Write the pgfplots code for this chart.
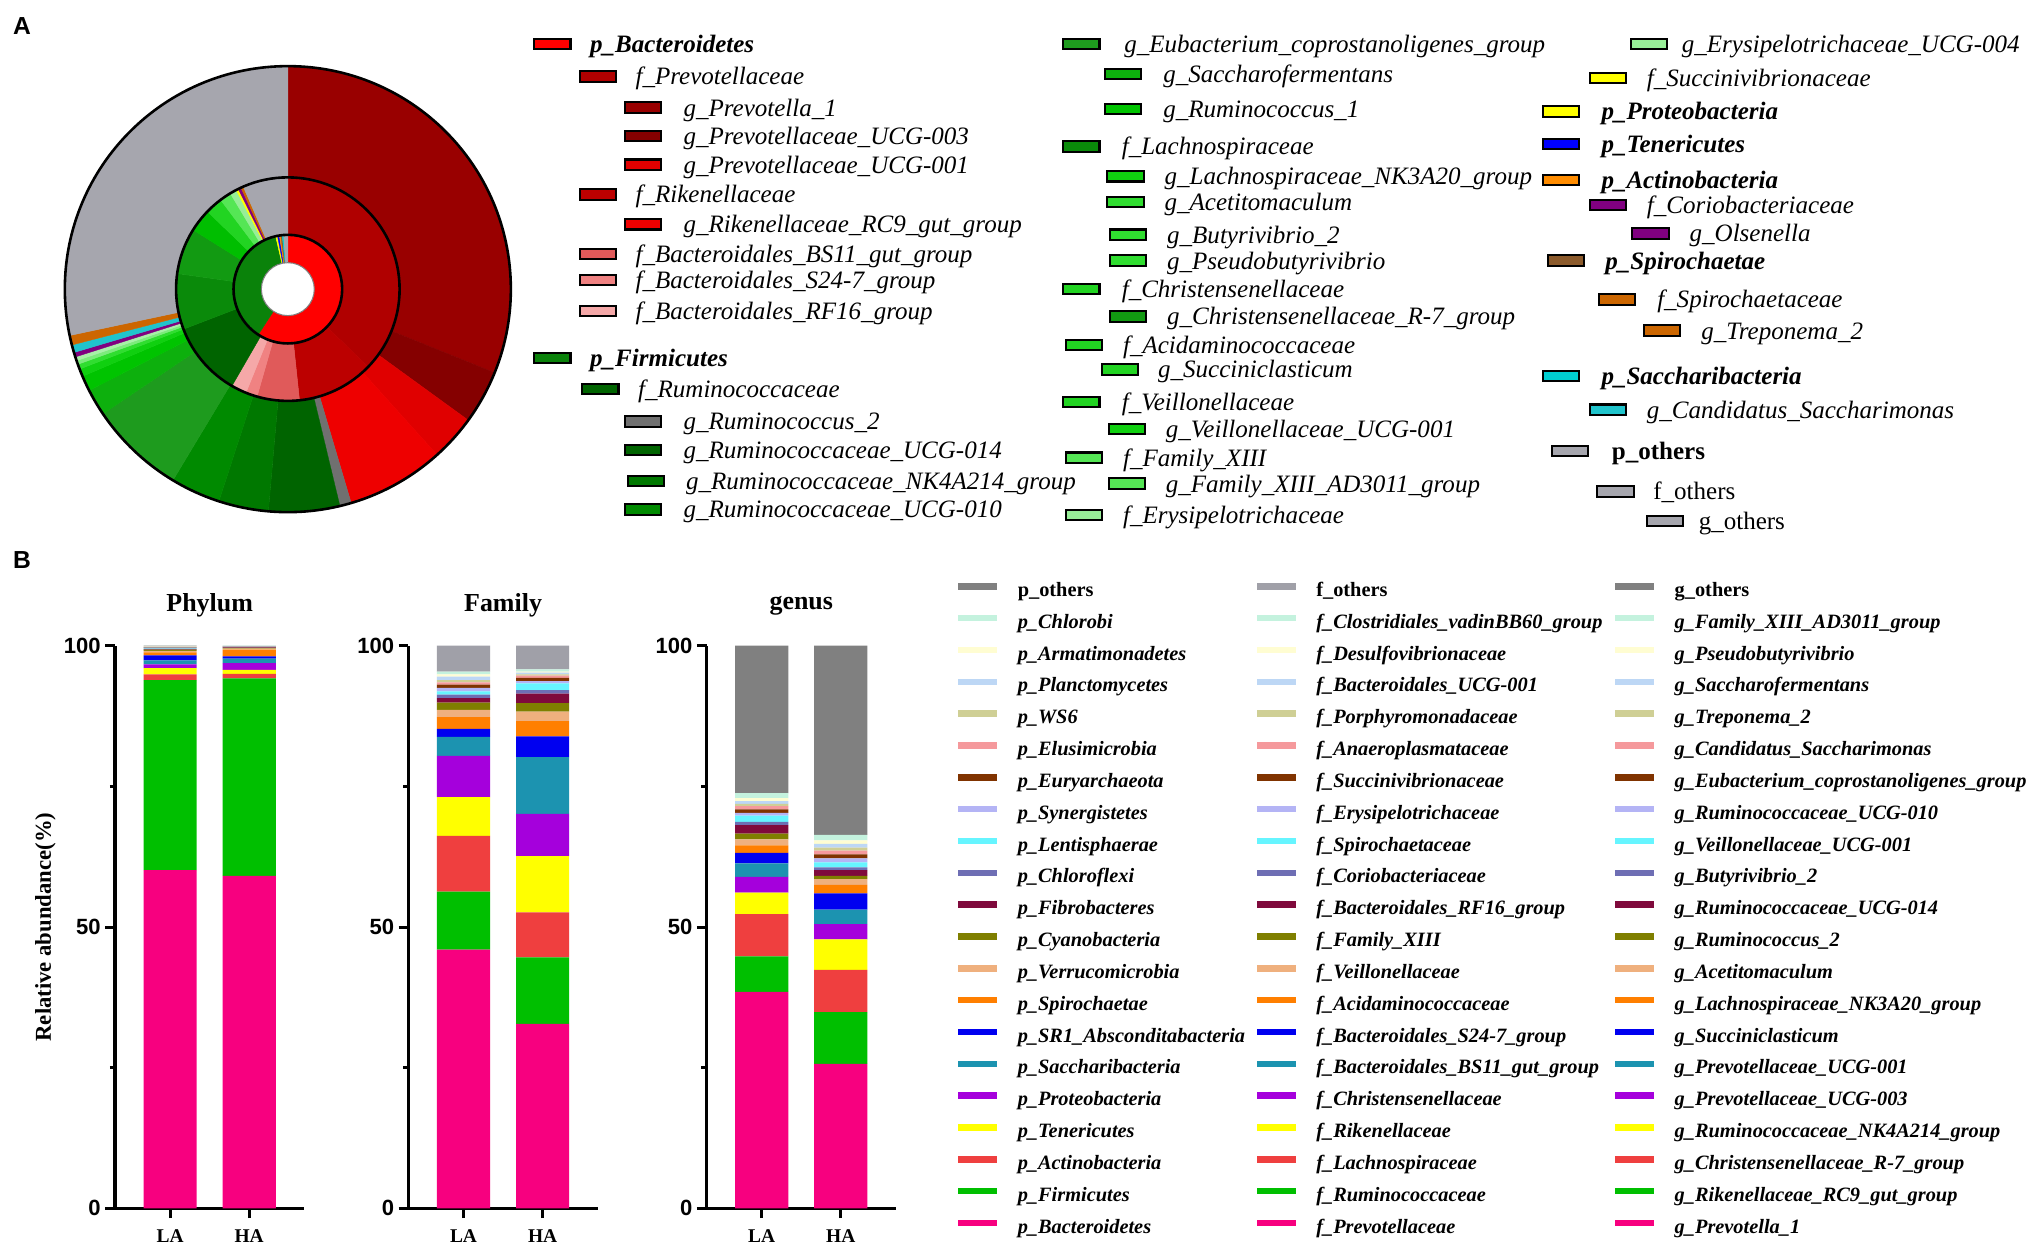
\documentclass[border=0pt]{standalone}
\usepackage{pgfplots}
\pgfplotsset{compat=1.18}
\usepackage{pgfplotstable}
\usepackage{fontspec}
\setmainfont{Liberation Serif}
\newfontfamily\sansf{Liberation Sans}
% sunburst colours
\definecolor{sRed}{HTML}{FF0000}
\definecolor{sGreen}{HTML}{0A820A}
\definecolor{sYellow}{HTML}{FFFF00}
\definecolor{sBlue}{HTML}{0000FF}
\definecolor{sOrange}{HTML}{FF8C00}
\definecolor{sBrown}{HTML}{8B5A2B}
\definecolor{sCyan}{HTML}{00CED1}
\definecolor{sGray}{HTML}{A6A6AE}
\definecolor{sPurple}{HTML}{800080}
\definecolor{mPrev}{HTML}{B00000}
\definecolor{mRik}{HTML}{BC0000}
\definecolor{mBS}{HTML}{E05A5A}
\definecolor{mSf}{HTML}{F08282}
\definecolor{mRF}{HTML}{F5A8A8}
\definecolor{mRum}{HTML}{006400}
\definecolor{mLach}{HTML}{0A8A0A}
\definecolor{mChr}{HTML}{129A12}
\definecolor{mAcid}{HTML}{00BE00}
\definecolor{mVeil}{HTML}{22D422}
\definecolor{mFam}{HTML}{55E655}
\definecolor{mEry}{HTML}{98EE98}
\definecolor{mSpi}{HTML}{CC6600}
\definecolor{oPrev}{HTML}{990000}
\definecolor{oUa}{HTML}{850000}
\definecolor{oUb}{HTML}{E00000}
\definecolor{oRC}{HTML}{EE0000}
\definecolor{oRum}{HTML}{707070}
\definecolor{oU14}{HTML}{006400}
\definecolor{oNK}{HTML}{007800}
\definecolor{oU10}{HTML}{008A00}
\definecolor{oEub}{HTML}{1E9B1E}
\definecolor{oSac}{HTML}{0DB00D}
\definecolor{oRa}{HTML}{00C400}
\definecolor{oNKt}{HTML}{10D010}
\definecolor{oAce}{HTML}{30DD30}
\definecolor{oLa}{HTML}{7CEB7C}
\definecolor{oLb}{HTML}{A8F0A8}
\definecolor{oCy}{HTML}{20C4CC}
% bar colours
\definecolor{cB1}{HTML}{F7007F}
\definecolor{cB2}{HTML}{00BF00}
\definecolor{cB3}{HTML}{EF3F3F}
\definecolor{cB4}{HTML}{FFFF00}
\definecolor{cB5}{HTML}{A500DC}
\definecolor{cB6}{HTML}{1C93B0}
\definecolor{cB7}{HTML}{0000F0}
\definecolor{cB8}{HTML}{FF7F00}
\definecolor{cB9}{HTML}{EFB07E}
\definecolor{cB10}{HTML}{7F7F00}
\definecolor{cB11}{HTML}{7F0A3C}
\definecolor{cB12}{HTML}{6E6EB4}
\definecolor{cB13}{HTML}{66F5FF}
\definecolor{cB14}{HTML}{B4B4F5}
\definecolor{cB15}{HTML}{803300}
\definecolor{cB16}{HTML}{F5999C}
\definecolor{cB17}{HTML}{CFCF95}
\definecolor{cB18}{HTML}{BDD7F5}
\definecolor{cB19}{HTML}{FFFDD2}
\definecolor{cB20}{HTML}{C4F2DE}
\definecolor{othP}{HTML}{808080}
\definecolor{othF}{HTML}{A0A0A8}
\definecolor{othG}{HTML}{808080}

\pgfplotstableread{
r1 r2 a1 a2 c
20.4 41.9 90 -123 sRed
20.4 41.9 -123 -257 sGreen
20.4 41.9 103 101 sYellow
20.4 41.9 101 99 sBlue
20.4 41.9 99 97.5 sOrange
20.4 41.9 97.5 96 sBrown
20.4 41.9 96 94.5 sCyan
20.4 41.9 94.5 90 sGray
41.9 86.2 90 -44 mPrev
41.9 86.2 -44 -84 mRik
41.9 86.2 -84 -106 mBS
41.9 86.2 -106 -112 mSf
41.9 86.2 -112 -120 mRF
41.9 86.2 -120 -159 mRum
41.9 86.2 -159 -188 mLach
41.9 86.2 -188 -212 mChr
41.9 86.2 -212 -224 mAcid
41.9 86.2 -224 -233 mVeil
41.9 86.2 -233 -239 mFam
41.9 86.2 -239 -242.5 mEry
41.9 86.2 -242.5 -243.7 sYellow
41.9 86.2 -243.7 -245.2 sPurple
41.9 86.2 -245.2 -246.5 mSpi
41.9 86.2 113.5 90 sGray
86.2 172 90 -22 oPrev
86.2 172 -22 -36 oUa
86.2 172 -36 -48 oUb
86.2 172 -48 -73.5 oRC
86.2 172 -73.5 -76.5 oRum
86.2 172 -76.5 -95 oU14
86.2 172 -95 -108 oNK
86.2 172 -108 -121 oU10
86.2 172 -121 -146 oEub
86.2 172 -146 -153 oSac
86.2 172 -153 -157 oRa
86.2 172 -157 -159 oNKt
86.2 172 -159 -160.3 oAce
86.2 172 -160.3 -161.3 oLa
86.2 172 -161.3 -162.3 oLb
86.2 172 -162.3 -163.5 sPurple
86.2 172 -163.5 -165.5 oCy
86.2 172 -165.5 -168 mSpi
86.2 172 -168 -270 sGray
}\sunb

\pgfplotstableread{
x Bac Fir Act Ten Pro Sac SR1 Spi Ver Cya Fib Chl Len Syn Eur Elu WS6 Pla Arm Chb Oth
0 60.1 33.8 1.0 1.1 0.7 0.7 0.9 0.5 0.3 0.2 0.1 0.1 0.1 0.05 0.1 0.05 0.05 0.05 0.03 0.02 0.05
1 59.1 35.1 0.8 0.7 1.2 0.8 0.4 1.2 0.2 0.1 0.1 0.05 0.05 0.05 0.05 0.02 0.02 0.02 0.02 0.02 0.02
}\tabP

\pgfplotstableread{
x Prev Rum Lach Rik Chr BS11 S247 Acid Veil Fam RF16 Cor Spi Ery Suc Ana Por BUCG Des Clo Oth
0 46.0 10.3 9.9 6.9 7.3 3.4 1.4 2.1 1.3 1.3 0.8 0.6 0.6 0.6 0.6 0.4 0.4 0.6 0.4 0.5 4.6
1 32.8 11.8 8.0 10.0 7.5 10.1 3.7 2.7 1.7 1.5 1.7 0.6 1.2 0.4 0.6 0.4 0.2 0.3 0.2 0.4 4.2
}\tabF

\pgfplotstableread{
x Prev1 RC9 R7 NK4 U003 U001 Succ NK3 Acet Rum2 U014 But VeilU U010 Eub Cand Trep Sacf Pseu AD30 Oth
0 38.5 6.3 7.5 3.8 2.8 2.4 1.9 1.3 1.1 1.0 1.5 0.6 1.1 0.5 0.6 0.6 0.4 0.5 0.5 0.9 26.2
1 25.7 9.2 7.5 5.4 2.7 2.6 2.9 1.5 1.0 0.6 1.0 0.5 0.9 0.7 0.7 0.7 0.5 0.7 0.6 1.0 33.6
}\tabG

\pgfplotsset{
  mylegimg/.style={legend image code/.code={\fill[##1] (0pt,1.5pt) rectangle (30pt,6.5pt);}},
  barax/.style={
    scale only axis, width=146pt, height=434pt,
    xmin=-0.697, xmax=1.697, ymin=0, ymax=100,
    axis lines=left, axis line style={-, line width=2.4pt},
    ybar stacked, bar width=41pt,
    xtick={0,1}, xticklabels={LA,HA},
    ytick={0,50,100}, minor ytick={25,75},
    tick align=outside, major tick length=7.5pt, minor tick length=4pt,
    every tick/.style={black, line width=2.4pt},
    yticklabel style={font=\sansf\bfseries\fontsize{17}{17}\selectfont},
    xticklabel style={font=\bfseries\fontsize{15}{15}\selectfont, yshift=-5pt},
    /pgf/number format/assume math mode=true,
    title style={at={(0.5,1)}, anchor=center, yshift=25pt, font=\bfseries\fontsize{20}{20}\selectfont},
    clip=false,
    legend cell align=left,
    reverse legend,
    legend style={anchor=north west, draw=none, fill=none, inner sep=0pt, outer sep=0pt,
      row sep=10.05pt, column sep=16pt,
      font=\bfseries\itshape\fontsize{15.7}{15.7}\selectfont,
      nodes={inner sep=0pt, text height=11pt, text depth=3.5pt}},
    every axis plot post/.append style={draw=none, mylegimg},
  }
}

\newcommand{\fP}{\fontsize{19.3}{19.3}\selectfont\bfseries\itshape}
\newcommand{\fI}{\fontsize{19.3}{19.3}\selectfont\itshape}
\newcommand{\fO}{\fontsize{19.3}{19.3}\selectfont\bfseries}
\newcommand{\fR}{\fontsize{19.3}{19.3}\selectfont}
\newcommand{\lgA}[6]{%
  \draw[line width=1.6pt, fill=#4] ({#1},{4-#2}) rectangle ({#1+28},{-4-#2});
  \node[anchor=base west, inner sep=0pt, font=#5] at ({#3},{-#2-6.5}) {#6};
}

\begin{document}
\begin{tikzpicture}[x=1pt,y=1pt]
\useasboundingbox (0,0) rectangle (1568,-967);
\fill[white] (0,0) rectangle (1568,-967);

\node[font=\sansf\bfseries\fontsize{19}{19}\selectfont] at (17,-20) {A};
\node[font=\sansf\bfseries\fontsize{19}{19}\selectfont] at (17,-432) {B};

% ---------------- sunburst ----------------
\begin{axis}[at={(222pt,-223pt)}, anchor=center, hide axis, scale only axis,
  width=360pt, height=360pt, xmin=-180, xmax=180, ymin=-180, ymax=180, clip=false]
\addplot[draw=none, forget plot] coordinates {(0,0)};
\pgfplotstablegetrowsof{\sunb}
\pgfmathtruncatemacro{\nsec}{\pgfplotsretval-1}
\pgfplotsinvokeforeach{0,...,\nsec}{%
  \pgfplotstablegetelem{#1}{r1}\of\sunb\let\rI\pgfplotsretval
  \pgfplotstablegetelem{#1}{r2}\of\sunb\let\rO\pgfplotsretval
  \pgfplotstablegetelem{#1}{a1}\of\sunb\let\sA\pgfplotsretval
  \pgfplotstablegetelem{#1}{a2}\of\sunb\let\sB\pgfplotsretval
  \pgfplotstablegetelem{#1}{c}\of\sunb\let\sC\pgfplotsretval
  \edef\sector{\noexpand\fill[fill=\sC, draw=\sC, line width=0.3pt, shift={(axis cs:0,0)}] (\sA:\rO pt) arc[start angle=\sA, end angle=\sB, radius=\rO pt] -- (\sB:\rI pt) arc[start angle=\sB, end angle=\sA, radius=\rI pt] -- cycle;}%
  \sector
}
\fill[white] (axis cs:0,0) circle[radius=20.4pt];
\draw[line width=0.8pt, gray] (axis cs:0,0) circle[radius=20.4pt];
\draw[line width=2pt] (axis cs:0,0) circle[radius=41.9pt];
\draw[line width=2pt] (axis cs:0,0) circle[radius=86.2pt];
\draw[line width=2pt] (axis cs:0,0) circle[radius=172pt];
\end{axis}

% ---------------- legend A ----------------
\lgA{412}{34}{455}{sRed}{\fP}{p\_Bacteroidetes}
\lgA{447}{59}{490}{mPrev}{\fI}{f\_Prevotellaceae}
\lgA{482}{83}{527}{oPrev}{\fI}{g\_Prevotella\_1}
\lgA{482}{105}{527}{oUa}{\fI}{g\_Prevotellaceae\_UCG-003}
\lgA{482}{127}{527}{oUb}{\fI}{g\_Prevotellaceae\_UCG-001}
\lgA{447}{150}{490}{mRik}{\fI}{f\_Rikenellaceae}
\lgA{482}{173}{527}{oRC}{\fI}{g\_Rikenellaceae\_RC9\_gut\_group}
\lgA{447}{196}{490}{mBS}{\fI}{f\_Bacteroidales\_BS11\_gut\_group}
\lgA{447}{216}{490}{mSf}{\fI}{f\_Bacteroidales\_S24-7\_group}
\lgA{447}{240}{490}{mRF}{\fI}{f\_Bacteroidales\_RF16\_group}
\lgA{412}{276}{455}{sGreen}{\fP}{p\_Firmicutes}
\lgA{449}{300}{492}{mRum}{\fI}{f\_Ruminococcaceae}
\lgA{482}{325}{527}{oRum}{\fI}{g\_Ruminococcus\_2}
\lgA{482}{347}{527}{oU14}{\fI}{g\_Ruminococcaceae\_UCG-014}
\lgA{484}{371}{529}{oNK}{\fI}{g\_Ruminococcaceae\_NK4A214\_group}
\lgA{482}{393}{527}{oU10}{\fI}{g\_Ruminococcaceae\_UCG-010}

\lgA{820}{34}{867}{oEub}{\fI}{g\_Eubacterium\_coprostanoligenes\_group}
\lgA{852}{57}{897}{oSac}{\fI}{g\_Saccharofermentans}
\lgA{852}{84}{897}{oRa}{\fI}{g\_Ruminococcus\_1}
\lgA{820}{113}{865}{mLach}{\fI}{f\_Lachnospiraceae}
\lgA{854}{136}{898}{oNKt}{\fI}{g\_Lachnospiraceae\_NK3A20\_group}
\lgA{854}{156}{898}{oAce}{\fI}{g\_Acetitomaculum}
\lgA{856}{181}{900}{oAce}{\fI}{g\_Butyrivibrio\_2}
\lgA{856}{201}{900}{oAce}{\fI}{g\_Pseudobutyrivibrio}
\lgA{820}{223}{865}{mVeil}{\fI}{f\_Christensenellaceae}
\lgA{856}{244}{900}{mChr}{\fI}{g\_Christensenellaceae\_R-7\_group}
\lgA{822}{266}{866}{mVeil}{\fI}{f\_Acidaminococcaceae}
\lgA{850}{285}{893}{mVeil}{\fI}{g\_Succiniclasticum}
\lgA{820}{310}{865}{mVeil}{\fI}{f\_Veillonellaceae}
\lgA{855}{331}{899}{oNKt}{\fI}{g\_Veillonellaceae\_UCG-001}
\lgA{822}{353}{866}{mFam}{\fI}{f\_Family\_XIII}
\lgA{855}{373}{899}{mFam}{\fI}{g\_Family\_XIII\_AD3011\_group}
\lgA{822}{397}{866}{mEry}{\fI}{f\_Erysipelotrichaceae}

\lgA{1258}{34}{1297}{mEry}{\fI}{g\_Erysipelotrichaceae\_UCG-004}
\lgA{1226}{60}{1270}{sYellow}{\fI}{f\_Succinivibrionaceae}
\lgA{1190}{86}{1235}{sYellow}{\fP}{p\_Proteobacteria}
\lgA{1190}{111}{1235}{sBlue}{\fP}{p\_Tenericutes}
\lgA{1190}{139}{1235}{sOrange}{\fP}{p\_Actinobacteria}
\lgA{1226}{158}{1270}{sPurple}{\fI}{f\_Coriobacteriaceae}
\lgA{1259}{180}{1303}{sPurple}{\fI}{g\_Olsenella}
\lgA{1194}{201}{1238}{sBrown}{\fP}{p\_Spirochaetae}
\lgA{1233}{231}{1278}{mSpi}{\fI}{f\_Spirochaetaceae}
\lgA{1268}{255}{1312}{mSpi}{\fI}{g\_Treponema\_2}
\lgA{1190}{290}{1235}{sCyan}{\fP}{p\_Saccharibacteria}
\lgA{1226}{316}{1270}{oCy}{\fI}{g\_Candidatus\_Saccharimonas}
\lgA{1197}{348}{1243}{sGray}{\fO}{p\_others}
\lgA{1232}{379}{1275}{sGray}{\fR}{f\_others}
\lgA{1270}{402}{1310}{sGray}{\fR}{g\_others}

% ---------------- Phylum ----------------
\begin{axis}[barax, at={(88.7pt,-932pt)}, anchor=south west, title={Phylum},
  ylabel={Relative abundance(\%)},
  ylabel style={at={(axis description cs:-0.368,0.5)}, anchor=center, font=\bfseries\fontsize{17.5}{17.5}\selectfont},
  legend style={at={(4.454,1.1129)}},
  legend entries={p\_Bacteroidetes, p\_Firmicutes, p\_Actinobacteria, p\_Tenericutes, p\_Proteobacteria, p\_Saccharibacteria, p\_SR1\_Absconditabacteria, p\_Spirochaetae, p\_Verrucomicrobia, p\_Cyanobacteria, p\_Fibrobacteres, p\_Chloroflexi, p\_Lentisphaerae, p\_Synergistetes, p\_Euryarchaeota, p\_Elusimicrobia, p\_WS6, p\_Planctomycetes, p\_Armatimonadetes, p\_Chlorobi, {\upshape p\_others}}]
\pgfplotsinvokeforeach{1,...,20}{\addplot[fill=cB#1] table[x index=0, y index=#1] {\tabP};}
\addplot[fill=othP] table[x index=0, y index=21] {\tabP};
\end{axis}

% ---------------- Family ----------------
\begin{axis}[barax, at={(315pt,-932pt)}, anchor=south west, title={Family},
  legend style={at={(4.481,1.1129)}},
  legend entries={f\_Prevotellaceae, f\_Ruminococcaceae, f\_Lachnospiraceae, f\_Rikenellaceae, f\_Christensenellaceae, f\_Bacteroidales\_BS11\_gut\_group, f\_Bacteroidales\_S24-7\_group, f\_Acidaminococcaceae, f\_Veillonellaceae, f\_Family\_XIII, f\_Bacteroidales\_RF16\_group, f\_Coriobacteriaceae, f\_Spirochaetaceae, f\_Erysipelotrichaceae, f\_Succinivibrionaceae, f\_Anaeroplasmataceae, f\_Porphyromonadaceae, f\_Bacteroidales\_UCG-001, f\_Desulfovibrionaceae, f\_Clostridiales\_vadinBB60\_group, {\upshape f\_others}}]
\pgfplotsinvokeforeach{1,...,20}{\addplot[fill=cB#1] table[x index=0, y index=#1] {\tabF};}
\addplot[fill=othF] table[x index=0, y index=21] {\tabF};
\end{axis}

% ---------------- genus ----------------
\begin{axis}[barax, at={(545pt,-932pt)}, anchor=south west, title={genus},
  legend style={at={(4.799,1.1129)}},
  legend entries={g\_Prevotella\_1, g\_Rikenellaceae\_RC9\_gut\_group, g\_Christensenellaceae\_R-7\_group, g\_Ruminococcaceae\_NK4A214\_group, g\_Prevotellaceae\_UCG-003, g\_Prevotellaceae\_UCG-001, g\_Succiniclasticum, g\_Lachnospiraceae\_NK3A20\_group, g\_Acetitomaculum, g\_Ruminococcus\_2, g\_Ruminococcaceae\_UCG-014, g\_Butyrivibrio\_2, g\_Veillonellaceae\_UCG-001, g\_Ruminococcaceae\_UCG-010, g\_Eubacterium\_coprostanoligenes\_group, g\_Candidatus\_Saccharimonas, g\_Treponema\_2, g\_Saccharofermentans, g\_Pseudobutyrivibrio, g\_Family\_XIII\_AD3011\_group, {\upshape g\_others}}]
\pgfplotsinvokeforeach{1,...,20}{\addplot[fill=cB#1] table[x index=0, y index=#1] {\tabG};}
\addplot[fill=othG] table[x index=0, y index=21] {\tabG};
\end{axis}
\end{tikzpicture}
\end{document}
